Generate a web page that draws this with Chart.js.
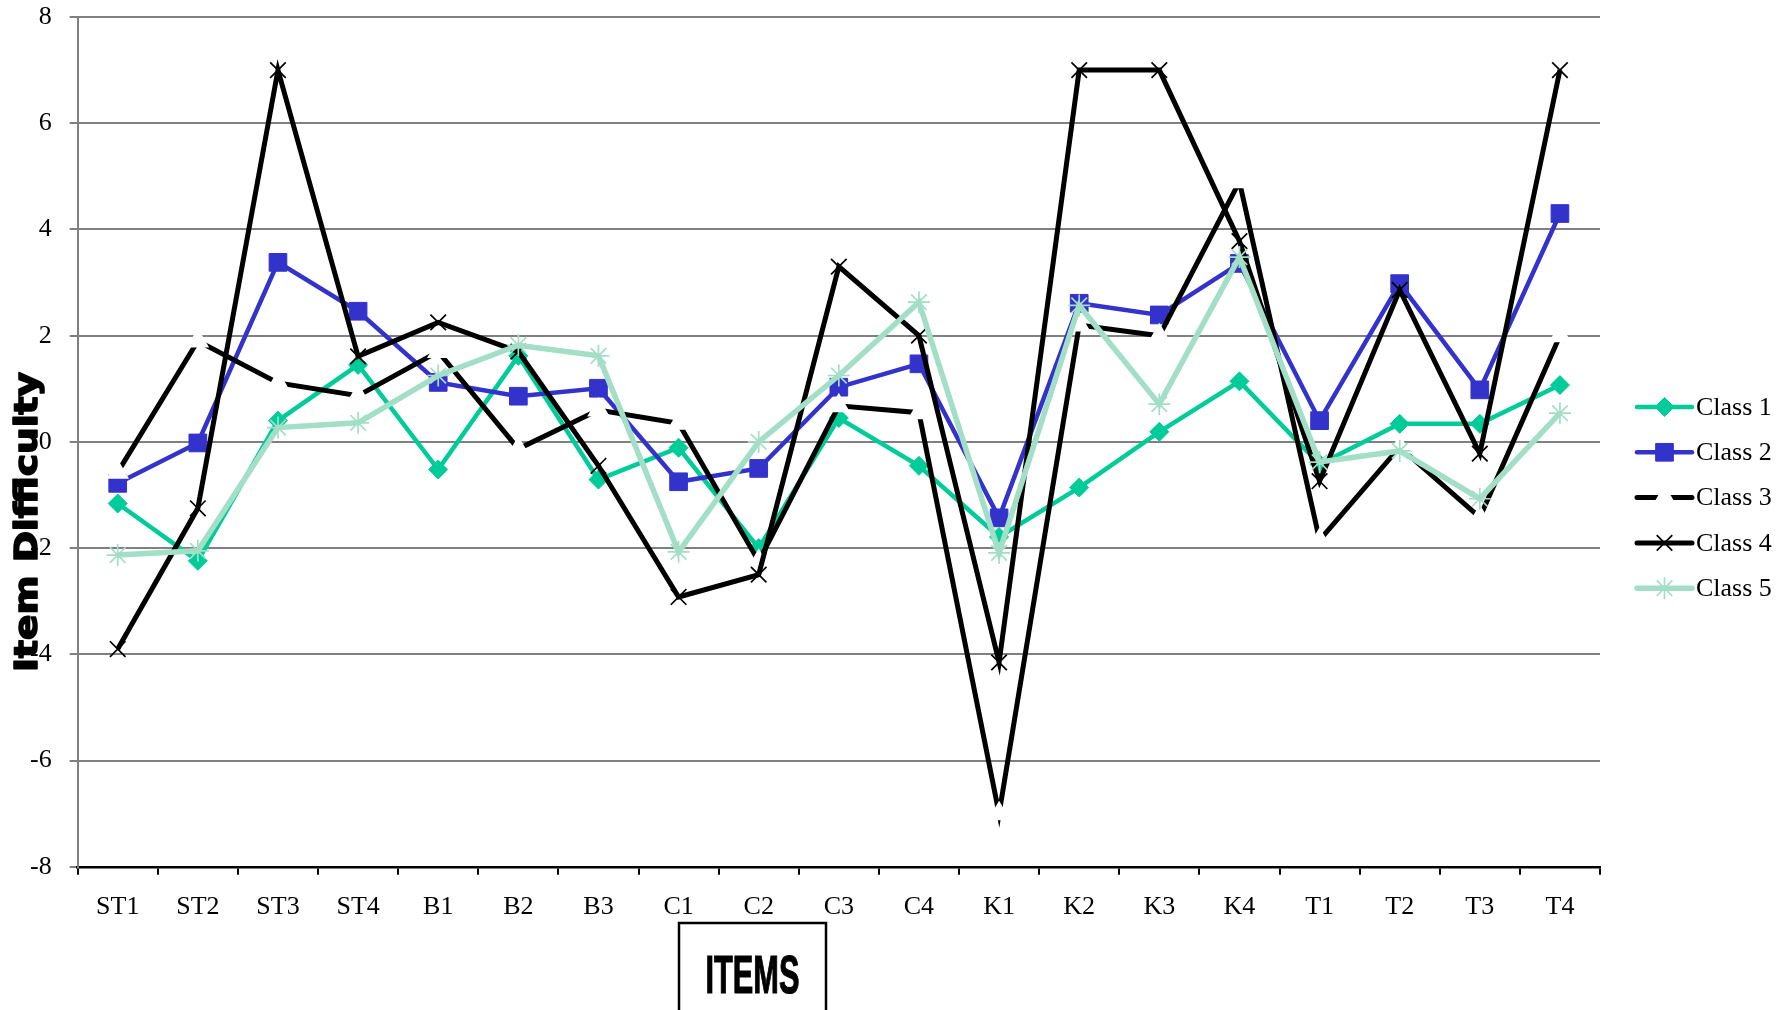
<!DOCTYPE html>
<html>
<head>
<meta charset="utf-8">
<script src="https://cdn.jsdelivr.net/npm/chart.js@4/dist/chart.umd.min.js"></script>
<style>
  html, body { margin: 0; padding: 0; background: #fff; overflow: hidden; }
  #wrap { position: relative; width: 1792px; height: 1010px; }
</style>
</head>
<body>
<div id="wrap"><canvas id="chart" width="1792" height="1010"></canvas></div>
<script>
// Test items on the horizontal axis
const items = ['ST1','ST2','ST3','ST4','B1','B2','B3','C1','C2','C3','C4','K1','K2','K3','K4','T1','T2','T3','T4'];

// Item difficulty estimates per latent class
const class1 = [-1.16, -2.24, 0.40, 1.45, -0.52, 1.62, -0.71, -0.11, -2.00, 0.45, -0.45, -1.79, -0.86, 0.19, 1.14, -0.42, 0.34, 0.34, 1.07];
const class2 = [-0.78, -0.02, 3.38, 2.46, 1.12, 0.86, 1.01, -0.75, -0.50, 1.03, 1.47, -1.43, 2.61, 2.39, 3.36, 0.40, 2.98, 0.98, 4.30];
const class3 = [-0.57, 1.90, 1.11, 0.87, 1.70, -0.13, 0.60, 0.35, -2.25, 0.68, 0.55, -7.00, 2.20, 2.00, 4.90, -1.85, -0.10, -1.42, 2.00];
const class4 = [-3.90, -1.25, 7.00, 1.61, 2.25, 1.70, -0.45, -2.92, -2.50, 3.30, 2.00, -4.15, 7.00, 7.00, 3.78, -0.74, 2.86, -0.22, 7.00];
const class5 = [-2.13, -2.05, 0.27, 0.36, 1.25, 1.82, 1.62, -2.07, 0.00, 1.25, 2.63, -2.09, 2.57, 0.71, 3.48, -0.38, -0.17, -1.07, 0.54];

const yTicks = [-8, -6, -4, -2, 0, 2, 4, 6, 8];

const SERIF = '"Liberation Serif", "Times New Roman", serif';

function series(label, data, color, style, opts) {
  return Object.assign({
    label, data,
    borderColor: color,
    backgroundColor: color,
    pointStyle: style,
    pointBackgroundColor: color,
    pointBorderColor: color,
    tension: 0,
    fill: false
  }, opts);
}

const datasets = [
  series('Class 1', class1, '#00CC99', 'rectRot', { borderWidth: 4.5, pointRadius: 9.5, pointBorderWidth: 1, order: 5 }),
  series('Class 2', class2, '#3333CC', 'rect', { borderWidth: 4.5, pointRadius: 12.5, pointBorderWidth: 1, order: 4 }),
  series('Class 3', class3, '#000000', 'triangle', { borderWidth: 5, pointRadius: 11.5, pointBackgroundColor: '#FFFFFF', pointBorderColor: '#FFFFFF', pointBorderWidth: 1.5, order: 3 }),
  series('Class 4', class4, '#000000', 'crossRot', { borderWidth: 5, pointRadius: 11, pointBorderWidth: 1.7, order: 2 }),
  series('Class 5', class5, '#A3DEC6', 'star', { borderWidth: 5.5, pointRadius: 11, pointBorderWidth: 1.7, order: 1 })
];

// Axis title, item box and the series key
const decorations = {
  id: 'decorations',
  afterDraw(chart) {
    const ctx = chart.ctx;
    const a = chart.chartArea;

    // Vertical axis title
    ctx.save();
    ctx.fillStyle = '#000';
    ctx.strokeStyle = '#000';
    ctx.lineWidth = 1.6;
    ctx.lineJoin = 'round';
    ctx.font = 'bold 32px "DejaVu Sans", sans-serif';
    const yTitle = 'Item Difficulty';
    const tw = ctx.measureText(yTitle).width;
    ctx.translate(a.left - 41, a.top + 505);
    ctx.rotate(-Math.PI / 2);
    ctx.scale(300 / tw, 1);
    ctx.textAlign = 'center';
    ctx.textBaseline = 'alphabetic';
    ctx.fillText(yTitle, 0, 0);
    ctx.strokeText(yTitle, 0, 0);
    ctx.restore();

    // Boxed horizontal axis title
    ctx.save();
    ctx.strokeStyle = '#000';
    ctx.lineWidth = 2.5;
    ctx.strokeRect(679, 923, 147, 100);
    ctx.fillStyle = '#000';
    ctx.lineWidth = 1.2;
    ctx.font = 'bold 53px "Liberation Sans Narrow", "Liberation Sans", sans-serif';
    const xTitle = 'ITEMS';
    const iw = ctx.measureText(xTitle).width;
    ctx.translate(752.5, 993);
    ctx.scale(94 / iw, 1);
    ctx.textAlign = 'center';
    ctx.textBaseline = 'alphabetic';
    ctx.fillText(xTitle, 0, 0);
    ctx.strokeText(xTitle, 0, 0);
    ctx.restore();

    // Series key
    const x0 = a.right + 37, x1 = a.right + 92, xm = (x0 + x1) / 2;
    chart.data.datasets.forEach((ds, i) => {
      const y = a.top + 390 + i * 45.3;
      ctx.save();
      ctx.strokeStyle = ds.borderColor;
      ctx.lineWidth = ds.borderWidth;
      ctx.lineCap = 'round';
      ctx.beginPath();
      ctx.moveTo(x0, y);
      ctx.lineTo(x1, y);
      ctx.stroke();
      ctx.fillStyle = ds.pointBackgroundColor;
      ctx.strokeStyle = ds.pointBorderColor;
      ctx.lineWidth = ds.pointBorderWidth;
      ctx.lineCap = 'butt';
      Chart.helpers.drawPoint(ctx, {
        pointStyle: ds.pointStyle,
        radius: ds.pointRadius,
        rotation: 0,
        borderWidth: ds.pointBorderWidth
      }, xm, y);
      ctx.fillStyle = '#000';
      ctx.font = '26px ' + SERIF;
      ctx.textAlign = 'left';
      ctx.textBaseline = 'middle';
      ctx.fillText(ds.label, x1 + 4, y + 1);
      ctx.restore();
    });
  }
};

new Chart(document.getElementById('chart'), {
  type: 'line',
  data: { labels: items, datasets },
  options: {
    responsive: false,
    animation: false,
    devicePixelRatio: 1,
    layout: { padding: { top: 17, right: 192, bottom: 70, left: 12 } },
    plugins: {
      legend: { display: false },
      tooltip: { enabled: false }
    },
    scales: {
      x: {
        type: 'category',
        offset: true,
        grid: {
          display: true,
          offset: true,
          drawOnChartArea: false,
          drawTicks: true,
          tickLength: 8,
          color: '#000',
          lineWidth: 2
        },
        border: { display: true, color: '#000', width: 2.5 },
        ticks: {
          color: '#000',
          font: { family: SERIF, size: 26 },
          padding: 17,
          maxRotation: 0,
          autoSkip: false
        }
      },
      y: {
        min: -8,
        max: 8,
        afterBuildTicks(scale) { scale.ticks = yTicks.map(v => ({ value: v })); },
        afterFit(scale) { scale.paddingTop = 0; scale.paddingBottom = 0; },
        grid: {
          color: '#808080',
          lineWidth: 2,
          drawTicks: true,
          tickLength: 8
        },
        border: { display: true, color: '#808080', width: 2 },
        ticks: {
          color: '#000',
          font: { family: SERIF, size: 26 },
          padding: 18
        }
      }
    }
  },
  plugins: [decorations]
});
</script>
</body>
</html>
